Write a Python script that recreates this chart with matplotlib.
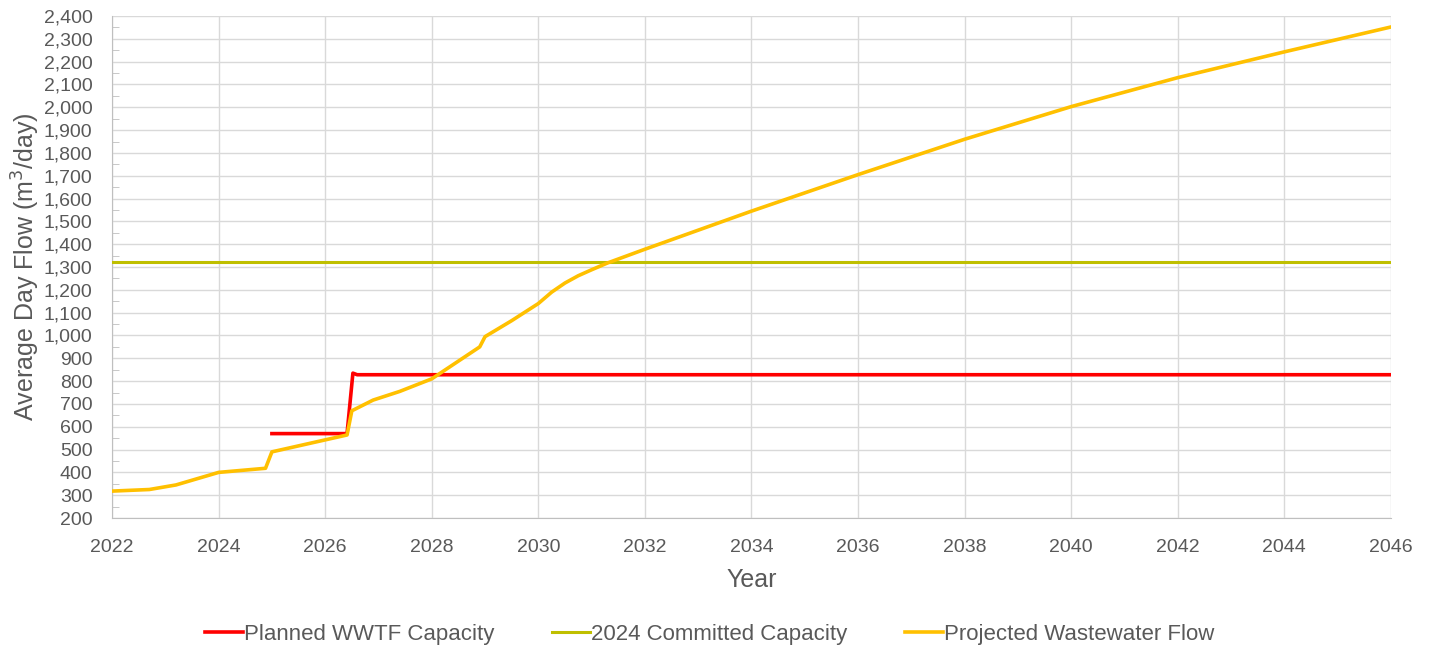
import matplotlib
matplotlib.use("Agg")
import matplotlib.pyplot as plt
from matplotlib.ticker import MultipleLocator, FuncFormatter

plt.rcParams['font.family'] = ['Liberation Sans', 'DejaVu Sans']

# Projected Wastewater Flow
flow_years = [2022.0, 2022.7, 2023.2, 2024.0, 2024.88, 2025.0, 2026.41, 2026.5, 2026.9, 2027.4,
              2028.0, 2028.9, 2029.0, 2029.5, 2030.0, 2030.25, 2030.5, 2030.75, 2031.0, 2031.3,
              2032.0, 2034.0, 2036.0, 2038.0, 2040.0, 2042.0, 2044.0, 2046.0]
flow_vals = [318, 325, 345, 400, 418, 490, 564, 670, 717, 755,
             810, 950, 995, 1065, 1140, 1190, 1230, 1262, 1288, 1318,
             1378, 1545, 1705, 1860, 2003, 2130, 2243, 2352]

# Planned WWTF Capacity
cap_years = [2025.0, 2026.41, 2026.52, 2026.6, 2046.0]
cap_vals = [570, 570, 835, 828, 828]

# 2024 Committed Capacity
committed_years = [2022.0, 2046.0]
committed_vals = [1320, 1320]

gray = '#595959'
fig = plt.figure(figsize=(14.31, 6.49), dpi=100)
ax = fig.add_axes([0.0783, 0.2018, 0.9720 - 0.0783, 0.9753 - 0.2018])

ax.plot(cap_years, cap_vals, color='#FF0000', lw=2.6, label='Planned WWTF Capacity', zorder=3)
ax.plot(committed_years, committed_vals, color='#BFBF00', lw=2.2, label='2024 Committed Capacity', zorder=3)
ax.plot(flow_years, flow_vals, color='#FFC000', lw=2.6, label='Projected Wastewater Flow', zorder=4)

ax.set_xlim(2022, 2046)
ax.set_ylim(200, 2400)
ax.xaxis.set_major_locator(MultipleLocator(2))
ax.yaxis.set_major_locator(MultipleLocator(100))
ax.yaxis.set_minor_locator(MultipleLocator(50))
ax.yaxis.set_major_formatter(FuncFormatter(lambda v, p: f'{int(v):,}'))
ax.grid(True, which='major', color='#D9D9D9', lw=1)
ax.set_axisbelow(True)
for s in ['top', 'right']:
    ax.spines[s].set_visible(False)
for s in ['left', 'bottom']:
    ax.spines[s].set_color('#BFBFBF')
ax.tick_params(axis='both', which='both', colors='#BFBFBF', labelcolor=gray, labelsize=14)
ax.tick_params(axis='y', which='major', length=0, pad=14)
ax.tick_params(axis='y', which='minor', length=5, direction='in')
ax.tick_params(axis='x', which='major', length=0, pad=15)

ax.set_xlabel('Year', fontsize=18, color=gray, labelpad=9)
ax.set_ylabel('Average Day Flow (m$^3$/day)', fontsize=18, color=gray, labelpad=1)

leg = fig.legend(loc='center', bbox_to_anchor=(0.496, 0.022), ncol=3, frameon=False,
                 fontsize=16, handlelength=1.7, handletextpad=0.05, columnspacing=2.6)
for t in leg.get_texts():
    t.set_color(gray)

fig.savefig('out.png', dpi=100)
